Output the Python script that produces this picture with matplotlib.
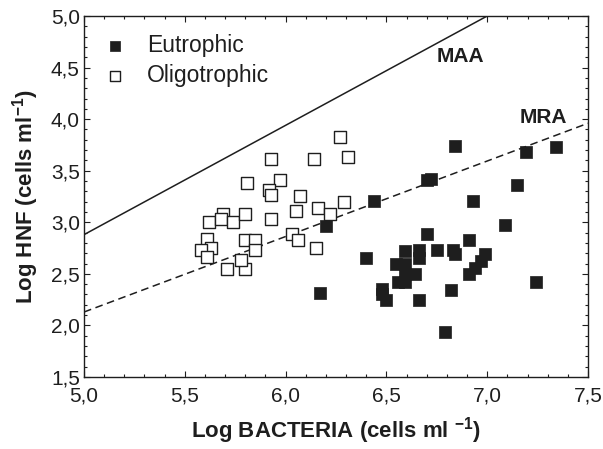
import matplotlib
matplotlib.use("Agg")
import matplotlib.pyplot as plt
import numpy as np
from matplotlib.ticker import MultipleLocator, FixedLocator

plt.rcParams['font.family'] = ['Liberation Sans', 'DejaVu Sans']
plt.rcParams['mathtext.fontset'] = 'custom'
plt.rcParams['mathtext.rm'] = 'Liberation Sans'
plt.rcParams['mathtext.bf'] = 'Liberation Sans:bold'

# Data
eu_x = [6.84, 7.19, 7.34, 6.70, 6.72, 6.44, 7.15, 6.93, 7.09, 6.70, 6.91, 6.40,
        6.59, 6.66, 6.66, 6.75, 6.83, 6.84, 6.99, 6.97, 6.94, 6.91, 6.55, 6.59,
        6.59, 6.64, 6.56, 6.59, 6.48, 6.48, 6.50, 6.66, 6.82, 7.24, 6.79, 6.17, 6.20]
eu_y = [3.74, 3.68, 3.73, 3.41, 3.42, 3.21, 3.36, 3.21, 2.97, 2.89, 2.83, 2.65,
        2.72, 2.73, 2.65, 2.73, 2.73, 2.69, 2.69, 2.62, 2.56, 2.50, 2.60, 2.60,
        2.50, 2.50, 2.42, 2.42, 2.35, 2.30, 2.25, 2.25, 2.34, 2.42, 1.94, 2.31, 2.96]

ol_x = [6.27, 5.93, 6.14, 6.31, 5.81, 5.97, 5.92, 5.93, 6.07, 6.05, 6.16, 6.29,
        6.22, 5.93, 5.69, 5.62, 5.68, 5.74, 5.80, 5.61, 5.63, 5.58, 5.61, 5.71,
        5.80, 5.78, 5.80, 5.85, 5.85, 6.03, 6.06, 6.15]
ol_y = [3.83, 3.61, 3.61, 3.63, 3.38, 3.41, 3.31, 3.26, 3.25, 3.11, 3.14, 3.20,
        3.08, 3.03, 3.08, 3.00, 3.03, 3.00, 3.08, 2.84, 2.75, 2.73, 2.66, 2.55,
        2.55, 2.63, 2.83, 2.83, 2.73, 2.89, 2.83, 2.75]

# Reference lines (endpoints)
maa_x = [5.0, 7.0]
maa_y = [2.88, 5.0]
mra_x = [5.0, 7.5]
mra_y = [2.13, 3.96]

x_ticks = [5.0, 5.5, 6.0, 6.5, 7.0, 7.5]
x_ticklabels = ["5,0", "5,5", "6,0", "6,5", "7,0", "7,5"]
y_ticks = [1.5, 2.0, 2.5, 3.0, 3.5, 4.0, 4.5, 5.0]
y_ticklabels = ["1,5", "2,0", "2,5", "3,0", "3,5", "4,0", "4,5", "5,0"]

ink = '#1e1e1e'

fig = plt.figure(figsize=(6.03, 4.49), dpi=100)
ax = fig.add_axes([84/603, 1-377/449, (588-84)/603, (377-16)/449])

ax.plot(maa_x, maa_y, color=ink, lw=1.1)
ax.plot(mra_x, mra_y, color=ink, lw=1.1, dashes=(5, 3))

h_ol = ax.scatter(ol_x, ol_y, marker='s', s=72, facecolor='white',
                  edgecolor=ink, linewidths=1.0, zorder=3)
h_eu = ax.scatter(eu_x, eu_y, marker='s', s=72, facecolor=ink,
                  edgecolor=ink, linewidths=0.5, zorder=4)

ax.set_xlim(5.0, 7.5)
ax.set_ylim(1.5, 5.0)
ax.xaxis.set_major_locator(FixedLocator(x_ticks))
ax.set_xticklabels(x_ticklabels)
ax.yaxis.set_major_locator(FixedLocator(y_ticks))
ax.set_yticklabels(y_ticklabels)
ax.xaxis.set_minor_locator(MultipleLocator(0.1))
ax.yaxis.set_minor_locator(MultipleLocator(0.1))
ax.tick_params(which='both', direction='in', top=True, right=True,
               width=0.8, color=ink, labelcolor=ink)
ax.tick_params(which='major', length=4, labelsize=15)
ax.tick_params(axis='x', which='major', pad=7)
ax.tick_params(axis='y', which='major', pad=3)
ax.tick_params(which='minor', length=2.5)
for s in ax.spines.values():
    s.set_linewidth(1.0)
    s.set_color(ink)

ax.set_xlabel("Log BACTERIA (cells ml $^{\\mathbf{-1}}$)", fontsize=16,
              fontweight='bold', labelpad=7, color=ink)
ax.set_ylabel("Log HNF (cells ml$^{\\mathbf{-1}}$)", fontsize=16,
              fontweight='bold', labelpad=7, color=ink)

ax.text(6.75, 4.61, "MAA", fontsize=15, fontweight='bold', ha='left',
        va='center', color=ink)
ax.text(7.16, 4.02, "MRA", fontsize=15, fontweight='bold', ha='left',
        va='center', color=ink)

leg = ax.legend([h_eu, h_ol], ["Eutrophic", "Oligotrophic"], loc='upper left',
                bbox_to_anchor=(0.021, 0.975), borderaxespad=0, frameon=False,
                fontsize=16.5, handlelength=1.0, handletextpad=0.9,
                labelspacing=0.3, markerscale=0.85)
for t in leg.get_texts():
    t.set_color(ink)

fig.savefig("out.png", dpi=100)
